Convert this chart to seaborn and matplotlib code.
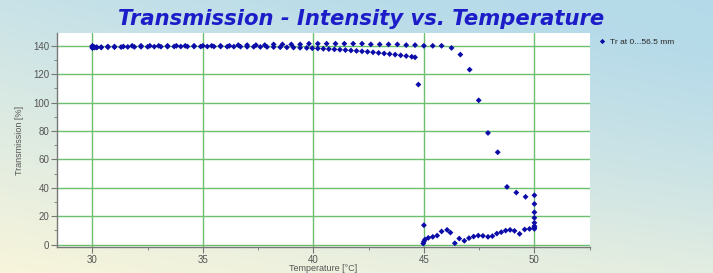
import numpy as np
import pandas as pd
import matplotlib
matplotlib.use("Agg")
import matplotlib.pyplot as plt
from matplotlib.ticker import MultipleLocator
import seaborn as sns

# heating run: flat near 140 %, then drop between 46 and 50 degC
heat_t = [30.0, 30.1, 30.2, 30.4, 30.7, 31.0, 31.4, 31.8, 32.2, 32.6, 33.0, 33.4,
          33.8, 34.2, 34.6, 35.0, 35.4, 35.8, 36.2, 36.6, 37.0, 37.4, 37.8, 38.2,
          38.6, 39.0, 39.4, 39.8, 40.2, 40.6, 41.0, 41.4, 41.8, 42.2, 42.6, 43.0,
          43.4, 43.8, 44.2, 44.6, 45.0, 45.4, 45.8, 46.25, 46.65, 47.07, 47.48,
          47.9, 48.34, 48.76, 49.18, 49.6, 50.0, 50.0, 50.0, 50.0, 50.0]
heat_v = [138.5, 139.0, 139.0, 139.0, 139.5, 139.5, 139.5, 140.0, 140.0, 140.0, 140.0, 140.0,
          140.0, 140.0, 140.0, 140.0, 140.0, 140.0, 140.0, 140.5, 140.5, 140.5, 140.5, 141.0,
          141.0, 141.0, 141.0, 141.5, 141.5, 141.5, 141.5, 141.5, 141.5, 141.5, 141.0, 141.0,
          141.0, 141.0, 140.5, 140.5, 140.0, 140.0, 140.0, 138.5, 133.8, 123.2, 101.6,
          78.6, 65.0, 40.6, 36.6, 33.6, 34.7, 28.6, 22.7, 18.8, 15.3]

# cooling run: low values from 50 back to 45, then jump up and slow rise to 30 degC
cool_t = [50.0, 50.0, 50.0, 49.78, 49.56, 49.33, 49.1, 48.9, 48.7, 48.5, 48.3, 48.1,
          47.9, 47.67, 47.46, 47.25, 47.04, 46.83, 46.6, 46.4, 46.2, 46.05, 45.8, 45.6,
          45.4, 45.2, 45.05, 45.0, 44.97, 45.0, 44.75, 44.6, 44.45, 44.2, 43.95, 43.7,
          43.45, 43.2, 42.95, 42.7, 42.45, 42.2, 41.95, 41.7, 41.45, 41.2, 40.95, 40.7,
          40.45, 40.2, 39.95, 39.7, 39.4, 39.1, 38.8, 38.5, 38.2, 37.9, 37.6, 37.3,
          37.0, 36.7, 36.4, 36.1, 35.8, 35.5, 35.2, 34.9, 34.6, 34.3, 34.0, 33.7,
          33.4, 33.1, 32.8, 32.5, 32.2, 31.9, 31.6, 31.3, 31.0, 30.7, 30.4, 30.2,
          30.1, 30.0, 30.0, 30.0]
cool_v = [13.0, 12.0, 11.0, 11.0, 10.6, 7.5, 9.6, 10.3, 9.8, 8.7, 7.7, 5.9,
          5.4, 6.1, 6.3, 5.6, 4.5, 2.6, 4.2, 0.9, 8.4, 10.3, 9.2, 6.3,
          5.4, 4.7, 3.5, 2.1, 0.7, 13.6, 112.7, 131.9, 132.3, 132.8, 133.3, 133.8,
          134.2, 134.6, 135.0, 135.4, 135.8, 136.1, 136.4, 136.7, 137.0, 137.3, 137.5, 137.7,
          137.9, 138.1, 138.3, 138.5, 138.6, 138.8, 138.9, 139.0, 139.1, 139.2, 139.2, 139.3,
          139.3, 139.4, 139.4, 139.4, 139.5, 139.5, 139.5, 139.5, 139.5, 139.5, 139.5, 139.5,
          139.4, 139.4, 139.4, 139.3, 139.3, 139.2, 139.2, 139.1, 139.0, 139.0, 138.9, 138.8,
          138.8, 138.6, 139.4, 140.0]

series_label = "Tr at 0...56.5 mm"

df = pd.DataFrame({
    "Temperature": heat_t + cool_t,
    "Transmission": heat_v + cool_v,
    "series": series_label,
})

sns.set_style("white")
plt.rcParams["font.family"] = ["Liberation Sans", "DejaVu Sans"]

fig = plt.figure(figsize=(7.13, 2.73), dpi=100)

# gradient background (pale yellow bottom, light blue top/right)
bg = fig.add_axes([0, 0, 1, 1], zorder=0)
yy, xx = np.mgrid[0:1:100j, 0:1:200j]
top = np.array([0.74, 0.87, 0.92])
bottom = np.array([0.97, 0.96, 0.86])
right = np.array([0.66, 0.83, 0.90])
w = np.clip(yy * 0.8 + xx * 0.35, 0, 1)[..., None]
img = bottom * (1 - w) + top * w
img = img * (1 - 0.4 * (xx[..., None] * yy[..., None])) + right * 0.4 * (xx[..., None] * yy[..., None])
bg.imshow(img, origin="lower", aspect="auto", extent=[0, 1, 0, 1])
bg.axis("off")

ax = fig.add_axes([0.080, 0.095, 0.747, 0.784], zorder=1)
ax.set_facecolor("white")
sns.scatterplot(data=df, x="Temperature", y="Transmission", hue="series",
                palette=["#0c0ca8"], marker="D", s=9, linewidth=0, ax=ax, zorder=3)

ax.set_xlim(28.4, 52.5)
ax.set_ylim(-1.8, 149)
ax.xaxis.set_major_locator(MultipleLocator(5))
ax.xaxis.set_minor_locator(MultipleLocator(2.5))
ax.yaxis.set_major_locator(MultipleLocator(20))
ax.yaxis.set_minor_locator(MultipleLocator(10))
ax.grid(True, which="major", color="#6cbf6c", linewidth=1.0, zorder=1)
ax.set_axisbelow(True)

for side in ["top", "right"]:
    ax.spines[side].set_visible(False)
for side in ["left", "bottom"]:
    ax.spines[side].set_color("#777777")
    ax.spines[side].set_linewidth(1.0)
ax.tick_params(axis="both", which="major", direction="out", length=4, width=0.8,
               color="#777777", labelsize=7, labelcolor="#555555", pad=1.5, left=True, bottom=True)
ax.tick_params(axis="both", which="minor", direction="out", length=2, width=0.6,
               color="#777777", left=True, bottom=True)

ax.set_xlabel("Temperature [°C]", fontsize=6.5, color="#555555", labelpad=-0.5)
ax.set_ylabel("Transmission [%]", fontsize=6.5, color="#555555", labelpad=7)

fig.text(0.507, 0.93, "Transmission - Intensity vs. Temperature", ha="center", va="center",
         fontsize=15.2, fontweight="bold", fontstyle="italic", color="#1c1cc8",
         family=["DejaVu Sans"])

ax.legend(loc="upper left", bbox_to_anchor=(1.005, 1.0), frameon=False, fontsize=6,
          handletextpad=0.3, markerscale=0.9, borderaxespad=0.2, handlelength=1.2)

fig.savefig("out.png", dpi=100)
